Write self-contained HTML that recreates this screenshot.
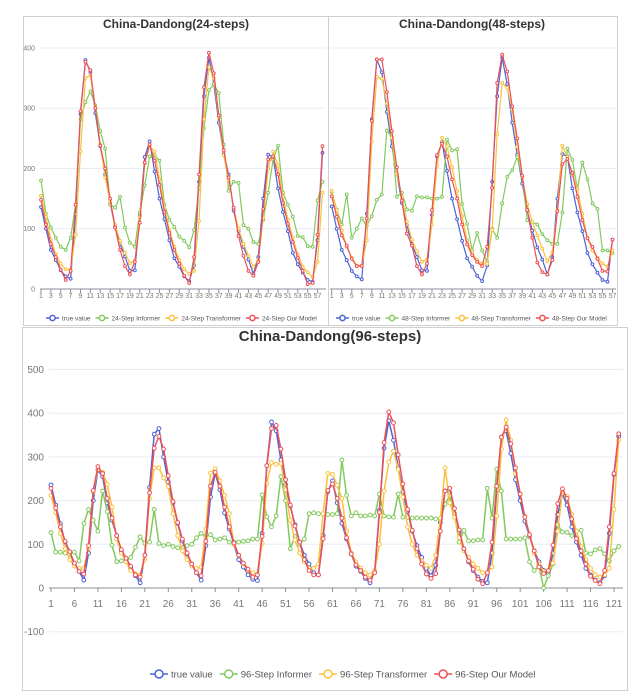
<!DOCTYPE html>
<html><head><meta charset="utf-8">
<style>
html,body{margin:0;padding:0;background:#fff;}
svg{display:block;font-family:"Liberation Sans",sans-serif;}
</style></head>
<body>
<svg id="chart" width="636" height="699" viewBox="0 0 636 699" xmlns="http://www.w3.org/2000/svg">
<rect x="23.5" y="16.5" width="305" height="309" fill="#fff" stroke="#cfcfcf"/>
<rect x="328.5" y="16.5" width="289" height="309" fill="#fff" stroke="#cfcfcf"/>
<rect x="22.5" y="327.5" width="605" height="363" fill="#fff" stroke="#cfcfcf"/>
</svg>
<script>
// ---- 24-step data ----
const true24 = [136,100,65,48,31,21,17,124,290,380,360,292,237,190,143,103,75,54,30,31,122,219,245,195,150,116,81,51,37,21,13,39,178,320,384,340,276,224,190,130,96,70,49,25,53,150,223,219,167,128,96,60,41,27,15,12,81,226];
const informer24 = [180,125,102,85,70,65,85,140,282,310,328,305,262,233,140,135,153,102,77,70,127,172,220,222,213,140,115,103,87,80,69,98,168,267,330,340,325,240,163,178,176,106,100,78,75,115,160,215,238,160,140,120,88,86,71,70,147,178];
const transformer24 = [155,120,82,58,42,33,32,90,228,350,355,302,240,185,145,107,80,60,43,47,120,208,238,228,182,135,98,70,48,33,25,30,113,282,368,350,285,222,180,135,100,75,55,37,48,118,200,228,205,153,115,85,57,37,28,20,45,160];
const model24 = [148,107,75,53,32,15,30,140,295,377,363,300,238,200,150,102,65,38,24,45,110,210,240,213,173,128,93,65,42,22,10,53,190,335,392,358,288,230,185,135,88,55,30,22,45,133,215,220,190,143,108,78,52,30,8,10,90,237];
// ---- 48-step data ----
const true48 = [137,100,65,48,30,21,16,125,282,381,360,294,237,191,143,106,75,53,31,30,123,220,244,196,150,116,80,51,37,22,13,39,178,320,384,340,276,223,175,130,97,69,49,24,53,150,224,220,167,127,96,60,41,27,15,12,82];
const informer48 = [161,132,107,157,85,100,117,105,121,148,157,263,252,153,160,132,130,154,152,152,150,150,153,248,230,232,141,108,64,93,64,45,100,85,142,186,197,219,186,114,111,107,91,81,75,75,127,233,214,166,210,182,142,133,64,64,60];
const transformer48 = [163,131,97,70,52,39,39,81,245,352,349,308,251,191,153,112,82,63,45,49,107,205,251,236,202,163,121,81,60,48,42,42,98,257,342,334,298,236,186,141,111,89,67,46,61,131,238,219,189,166,125,85,64,52,42,37,64];
const model48 = [154,120,89,72,50,38,38,117,279,381,381,327,262,202,147,92,72,38,24,42,131,222,241,220,182,150,107,74,56,45,38,70,168,342,389,361,303,250,188,131,85,44,28,24,48,129,207,216,193,153,114,84,70,50,30,29,82];
// ---- 96-step data ----
const true96 = [236,190,147,105,80,55,38,18,80,200,270,255,195,155,120,85,65,45,28,12,75,230,352,365,300,243,195,148,108,78,55,35,18,97,208,263,225,172,135,100,65,48,30,20,17,125,280,380,360,293,237,188,145,105,75,55,35,30,120,220,245,195,148,112,78,50,38,22,12,38,178,320,383,338,275,220,175,130,97,70,45,28,52,150,222,218,170,127,90,60,40,25,15,12,80,225,345,360,308,248,200,153,118,85,60,40,35,80,168,215,190,140,105,75,45,30,18,12,28,125,260,347];
const informer96 = [127,82,82,80,78,82,62,148,180,155,130,222,175,98,60,62,62,70,93,117,102,105,180,102,97,100,95,92,92,97,100,115,125,118,122,110,112,115,105,105,105,107,108,112,112,213,163,140,165,255,200,90,118,100,112,170,172,170,169,168,168,170,293,212,165,172,165,165,167,165,215,165,163,162,215,162,162,160,160,160,160,160,158,158,192,212,170,105,132,108,108,110,110,228,160,272,222,112,112,112,112,115,60,40,50,0,28,55,145,128,127,120,130,132,80,78,87,90,78,62,85,95];
const transformer96 = [212,173,125,90,65,50,45,45,90,220,272,265,237,185,112,80,60,40,32,30,65,205,275,275,252,232,170,120,85,65,50,45,48,135,263,273,245,212,170,100,75,55,40,35,32,102,240,287,283,285,225,155,110,80,60,45,45,55,170,262,260,235,205,130,80,60,45,35,30,40,100,222,288,313,272,208,140,100,75,62,52,45,75,160,275,195,162,115,85,70,55,45,35,35,48,165,318,385,338,262,215,165,120,80,55,38,40,57,130,220,210,168,130,95,65,45,30,25,30,45,180,338];
const model96 = [228,183,140,107,83,57,38,32,97,223,278,262,205,160,120,88,68,50,30,25,75,218,320,347,318,257,198,150,112,80,55,35,28,107,233,265,233,185,140,103,75,57,43,25,30,118,280,365,372,318,248,190,142,105,65,40,30,30,113,223,238,205,160,115,78,53,40,25,18,35,173,333,403,378,305,238,180,132,90,55,32,22,33,130,222,228,182,133,90,62,43,20,10,35,105,233,345,368,330,275,215,162,122,85,48,33,40,98,193,227,205,158,113,85,55,27,17,10,40,140,262,353];
const yTicksTop = [0,100,200,300,400];
const yTicks96 = [-100,0,100,200,300,400,500];
const seriesColors = ['#4a63d8','#82c95e','#f9c23c','#ee4f55'];

const svg = document.getElementById('chart');
const NS = 'http://www.w3.org/2000/svg';
function mk(tag, attrs, parent){
  const e = document.createElementNS(NS, tag);
  for (const k in attrs) e.setAttribute(k, attrs[k]);
  (parent||svg).appendChild(e);
  return e;
}

function drawPanel(cfg){
  const g = mk('g', {});
  
  
  const n = cfg.series[0].length;
  const xs = i => cfg.x0 + (cfg.x1 - cfg.x0) * i / (cfg.nSpan);
  const ys = v => cfg.yZero - (v) * cfg.yUnit;
  const t = mk('text', {x: cfg.titleX, y: cfg.titleY, 'text-anchor':'middle', 'font-size': cfg.titleSize, 'font-weight':'bold', fill:'#333'}, g);
  t.textContent = cfg.title;
  
  
  cfg.yTicks.forEach(v => {
    const y = ys(v);
    if (v !== 0) {
      const gl = mk('line', {x1: cfg.gx0, x2: cfg.gx1, y1: y, y2: y, stroke:'#e8edf5', 'stroke-width':1}, g);
      
      
    }
    if (cfg.showY) {
      const lb = mk('text', {x: cfg.yLabelX, y: y + cfg.axisFont*0.35, 'text-anchor':'end', 'font-size': cfg.axisFont, fill:'#777'}, g);
      lb.textContent = v;
      
      
    }
  });
  const ax = mk('line', {x1: cfg.gx0, x2: cfg.gx1, y1: ys(0), y2: ys(0), stroke:'#8a8f99', 'stroke-width':1}, g);
  
  
  for (let i = 0; i < n; i += cfg.xStep) {
    const x = xs(i);
    const tk = mk('line', {x1:x, x2:x, y1: ys(0), y2: ys(0)+4, stroke:'#8a8f99', 'stroke-width':1}, g);
    
    
    const lb = mk('text', {x:x, y: cfg.xLabelY, 'text-anchor':'middle', 'font-size': cfg.axisFont, fill:'#777'}, g);
    lb.textContent = i + 1;
    
    
  }
  cfg.series.forEach((arr, si) => {
    const sg = mk('g', {}, g);
    
    
    const pts = arr.map((v, i) => xs(i).toFixed(2) + ',' + ys(v).toFixed(2)).join(' ');
    const pl = mk('polyline', {points: pts, fill:'none', stroke: seriesColors[si], 'stroke-width': cfg.lw, 'stroke-linejoin':'round'}, sg);
    
    
    arr.forEach((v, i) => {
      const c = mk('circle', {cx: xs(i), cy: ys(v), r: cfg.mr, fill:'#fff', stroke: seriesColors[si], 'stroke-width': 1}, sg);
      
      
    });
  });
  let lx = cfg.legendX;
  cfg.names.forEach((name, si) => {
    const lg = mk('g', {}, g);
    
    
    const w = cfg.legendIcon;
    mk('line', {x1: lx, x2: lx + w, y1: cfg.legendY, y2: cfg.legendY, stroke: seriesColors[si], 'stroke-width': 1.5}, lg);
    mk('circle', {cx: lx + w/2, cy: cfg.legendY, r: cfg.legendR, fill:'#fff', stroke: seriesColors[si], 'stroke-width': 1.5}, lg);
    const tx = mk('text', {x: lx + w + 3, y: cfg.legendY + cfg.legendFont*0.35, 'font-size': cfg.legendFont, fill:'#555'}, lg);
    tx.textContent = name;
    let tw = name.length * cfg.legendFont * 0.5;
    try { const m = tx.getComputedTextLength(); if (m > 0) tw = m; } catch (e) {}
    lx += w + 3 + tw + cfg.legendGap;
  });
}

drawPanel({id:'chart-24-steps', title:'China-Dandong(24-steps)', titleX:176, titleY:28, titleSize:12,
  series:[true24, informer24, transformer24, model24],
  names:['true value','24-Step Informer','24-Step Transformer','24-Step Our Model'],
  x0:41, x1:322.5, nSpan:57, gx0:40, gx1:326, yZero:289, yUnit:0.6025, yTicks:yTicksTop, showY:true,
  yLabelX:35, axisFont:7, xStep:2, xLabelY:298, lw:1.2, mr:1.4,
  legendX:46, legendY:318, legendIcon:13, legendR:2.6, legendFont:6.5, legendGap:5});

drawPanel({id:'chart-48-steps', title:'China-Dandong(48-steps)', titleX:472, titleY:28, titleSize:12,
  series:[true48, informer48, transformer48, model48],
  names:['true value','48-Step Informer','48-Step Transformer','48-Step Our Model'],
  x0:331.7, x1:612.5, nSpan:56, gx0:330, gx1:616, yZero:289, yUnit:0.6025, yTicks:yTicksTop, showY:false,
  yLabelX:330, axisFont:7, xStep:2, xLabelY:298, lw:1.2, mr:1.4,
  legendX:336, legendY:318, legendIcon:13, legendR:2.6, legendFont:6.5, legendGap:5});

drawPanel({id:'chart-96-steps', title:'China-Dandong(96-steps)', titleX:330, titleY:341, titleSize:15,
  series:[true96, informer96, transformer96, model96],
  names:['true value','96-Step Informer','96-Step Transformer','96-Step Our Model'],
  x0:51, x1:614, nSpan:120, gx0:49, gx1:623, yZero:588, yUnit:0.437, yTicks:yTicks96, showY:true,
  yLabelX:44, axisFont:10, xStep:5, xLabelY:607, lw:1.5, mr:1.9,
  legendX:150, legendY:674, legendIcon:18, legendR:4, legendFont:9.5, legendGap:7});
</script>
</body></html>
